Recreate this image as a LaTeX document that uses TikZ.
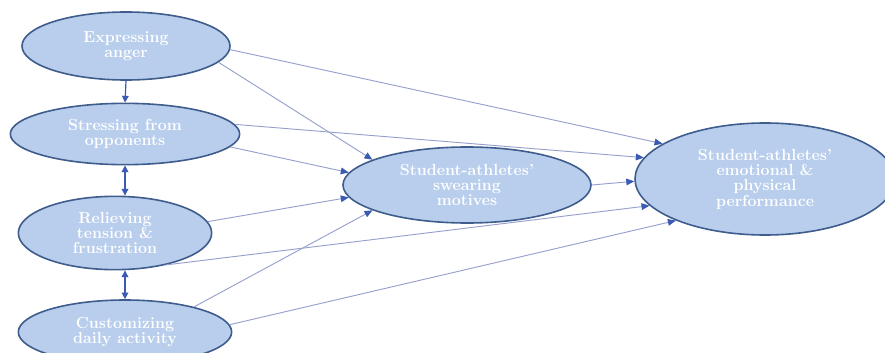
\documentclass[tikz,border=0pt]{standalone}
\usepackage{xcolor}
\usepackage{tikz}
\usetikzlibrary{shapes.geometric}
\usetikzlibrary{arrows.meta}
\definecolor{bubblefill}{RGB}{184,206,236}
\definecolor{bubbleline}{RGB}{62,92,140}
\definecolor{linkline}{RGB}{150,160,205}
\definecolor{tipblue}{RGB}{58,90,180}
\newcommand{\bubblefont}{\fontsize{12}{11.5}\selectfont\bfseries}

\begin{document}
\begin{tikzpicture}[x=0.75pt, y=-0.75pt,
      bubble/.style={ellipse, draw=bubbleline, line width=1.2pt, fill=bubblefill,
        text=white, inner sep=0pt, align=center, font=\bubblefont},
      link/.style={draw=linkline, line width=0.7pt,
        -{Triangle[length=6pt, width=5pt, color=tipblue]}},
      vlink/.style={draw=tipblue, line width=0.9pt,
        -{Triangle[length=5pt, width=5pt]}},
      vlinkboth/.style={vlink,
        {Triangle[length=5pt, width=5pt]}-{Triangle[length=5pt, width=5pt]}}]
    \useasboundingbox (0,0) rectangle (885,353);
    % left column (sizes in pt = px * 0.75)
    \node[bubble, minimum width=156pt, minimum height=51pt] (anger) at (126,46)
      {Expressing\\anger};
    \node[bubble, minimum width=172pt, minimum height=46pt] (stress) at (125,134)
      {Stressing from\\opponents};
    \node[bubble, minimum width=145pt, minimum height=55pt] (tension) at (115,233)
      {Relieving\\tension \&\\frustration};
    \node[bubble, minimum width=160pt, minimum height=48pt] (daily) at (125,332)
      {Customizing\\daily activity};
    % middle and right
    \node[bubble, minimum width=186pt, minimum height=57pt] (motives) at (467,185)
      {Student-athletes'\\swearing\\motives};
    \node[bubble, minimum width=195pt, minimum height=84pt] (perform) at (765,179)
      {Student-athletes'\\emotional \&\\physical\\performance};
    % vertical links
    \draw[vlink] (anger.south) -- (stress.north);
    \draw[vlinkboth] (stress.south) -- (stress.south |- tension.north);
    \draw[vlinkboth] (daily.north |- tension.south) -- (daily.north);
    % links into motives
    \draw[link] (anger.-10) -- (motives.165);
    \draw[link] (stress.-7) -- (motives.174);
    \draw[link] (tension.7) -- (motives.-174);
    \draw[link] (daily.20) -- (motives.-165);
    % links into performance
    \draw[link] (anger.-2) -- (perform.161);
    \draw[link] (stress.5) -- (perform.170);
    \draw[link] (motives.east) -- (perform.181);
    \draw[link] (tension.-32) -- (perform.-167);
    \draw[link] (daily.4) -- (perform.-155);
\end{tikzpicture}
\end{document}
